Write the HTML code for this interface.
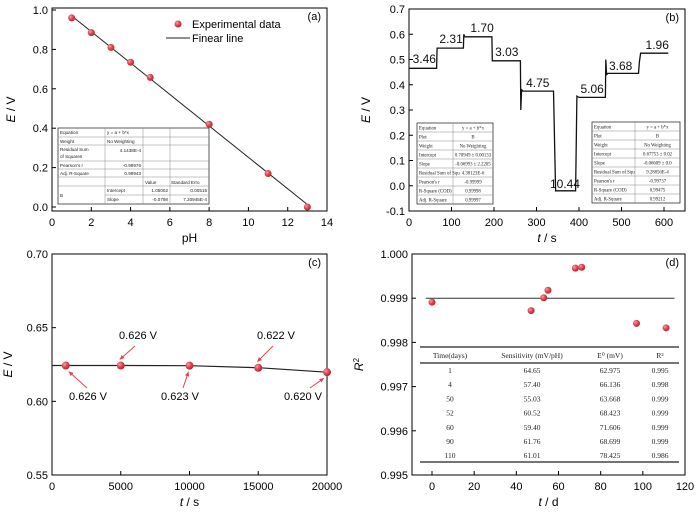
<!DOCTYPE html>
<html><head><meta charset="utf-8"><style>
body{margin:0;background:#fff}
svg{display:block;font-family:"Liberation Sans",sans-serif}
.tb{font-family:"Liberation Serif",serif}
</style></head><body>
<svg id="s" width="700" height="514" viewBox="0 0 700 514" xmlns="http://www.w3.org/2000/svg">
<defs><radialGradient id="rg" cx="0.35" cy="0.35" r="0.7"><stop offset="0" stop-color="#f5a0a5"/><stop offset="0.5" stop-color="#e0454f"/><stop offset="1" stop-color="#b5222c"/></radialGradient></defs>
</svg>
<script>
// panel a
const phX=[1,2,3,4,5,8,11,13];
const phE=[0.96,0.885,0.81,0.735,0.658,0.42,0.17,0.0];
const fitA=[1.05002,-0.0798];
const aXTicks=[0,2,4,6,8,10,12,14];
const aYTicks=[0.0,0.2,0.4,0.6,0.8,1.0];
// panel b
const bT=[0,65,66,128,129,131,195,196,262,263,265,268,340,345,392,395,400,462,463,465,468,540,542,545,610];
const bE=[0.465,0.465,0.545,0.545,0.60,0.59,0.59,0.495,0.495,0.30,0.38,0.375,0.375,-0.02,-0.02,0.355,0.35,0.35,0.50,0.44,0.445,0.445,0.49,0.525,0.525];
const bLabels=["3.46","2.31","1.70","3.03","4.75","10.44","5.06","3.68","1.96"];
const bLabT=[36,99,172,230,303,367,431,498,584];
const bLabE=[0.486,0.565,0.609,0.514,0.391,-0.009,0.367,0.458,0.542];
const bXTicks=[0,100,200,300,400,500,600];
const bYTicks=[-0.1,0,0.1,0.2,0.3,0.4,0.5,0.6,0.7];
// panel c
const cT=[1000,5000,10000,15000,20000];
const cE=[0.6243,0.6243,0.6242,0.6228,0.6198];
const cLabels=["0.626 V","0.626 V","0.623 V","0.622 V","0.620 V"];
const cXTicks=[0,5000,10000,15000,20000];
const cYTicks=[0.55,0.60,0.65,0.70];
// panel d
const dT=[0,47,53,55,68,71,97,111];
const dR=[0.99891,0.99872,0.99901,0.99918,0.99968,0.99970,0.99843,0.99833];
const dXTicks=[0,20,40,60,80,100,120];
const dYTicks=[0.995,0.996,0.997,0.998,0.999,1.000];
const tabHead=["Time(days)","Sensitivity (mV/pH)","E\u2070 (mV)","R\u00b2"];
const tabDays=["1","4","50","52","60","90","110"];
const tabSens=["64.65","57.40","55.03","60.52","59.40","61.76","61.01"];
const tabE0=["62.975","66.136","63.668","68.423","71.606","68.699","78.425"];
const tabR2=["0.995","0.998","0.999","0.999","0.999","0.999","0.986"];

const S=document.getElementById('s');const NS="http://www.w3.org/2000/svg";
function mk(t,a,txt,p){const e=document.createElementNS(NS,t);for(const k in a)e.setAttribute(k,a[k]);if(txt!=null)e.textContent=txt;(p||S).appendChild(e);return e;}
function lin(d0,d1,r0,r1){return v=>r0+(v-d0)/(d1-d0)*(r1-r0);}

function frame(P,name){
  const g=mk('g',{});
  
  
  const r=mk('rect',{x:P.x0,y:P.y0,width:P.x1-P.x0,height:P.y1-P.y0,fill:'none',stroke:'#000','stroke-width':1},null,g);
  
  
  P.xt.forEach(v=>{const x=P.sx(v);
    const l=mk('line',{x1:x,x2:x,y1:P.y1,y2:P.y1-4,stroke:'#000'},null,g);
    
    
    const t=mk('text',{x:x,y:P.y1+15,'text-anchor':'middle','font-size':P.fs},P.xf(v),g);
    
    });
  P.yt.forEach(v=>{const y=P.sy(v);
    const l=mk('line',{x1:P.x0,x2:P.x0+4,y1:y,y2:y,stroke:'#000'},null,g);
    
    
    const t=mk('text',{x:P.x0-4,y:y+4,'text-anchor':'end','font-size':P.fs},P.yf(v),g);
    
    });
  const xl=mk('text',{x:(P.x0+P.x1)/2,y:P.y1+31,'text-anchor':'middle','font-size':12},null,g);
  xl.innerHTML=P.xl;
  
  
  const yl=mk('text',{x:0,y:0,'text-anchor':'middle','font-size':12,transform:`translate(${P.ylx},${(P.y0+P.y1)/2}) rotate(-90)`},null,g);
  yl.innerHTML=P.yl;
  
  
  const pl=mk('text',{x:P.x1-6,y:P.y0+12,'text-anchor':'end','font-size':11},P.tag,g);
  
  
  return g;
}
function dot(x,y,r,name){const c=mk('circle',{cx:x,cy:y,r:r,fill:'url(#rg)'});
  
  return c;}

// ---------- A
const A={x0:52,x1:327,y0:8,y1:211,fs:11,xt:aXTicks,yt:aYTicks,xf:v=>v,yf:v=>v.toFixed(1),xl:'pH',yl:'<tspan font-style="italic">E</tspan> / V',ylx:15,tag:'(a)'};
A.sx=lin(0,14,52,327);A.sy=lin(0,1,207,10);
frame(A,'panel-a');
const fl=mk('line',{x1:A.sx(1),y1:A.sy(fitA[0]+fitA[1]*1),x2:A.sx(13),y2:A.sy(fitA[0]+fitA[1]*13),stroke:'#222','stroke-width':1});


phX.forEach((x,i)=>dot(A.sx(x),A.sy(phE[i]),3.5,'data-point'));
dot(178,24,3.5,'legend-marker');
const lt1=mk('text',{x:192,y:28,'font-size':11},'Experimental data');


const ll=mk('line',{x1:166,x2:190,y1:38,y2:38,stroke:'#222'});


const lt2=mk('text',{x:192,y:42,'font-size':11},'Finear line');


// fit table a
(function(){
  const g=mk('g',{'font-size':4.6,fill:'#222'});
  
  
  mk('rect',{x:58,y:128,width:151,height:76,fill:'#fff',stroke:'#333','stroke-width':0.8},null,g);
  [137,145,161,169,177,186,195].forEach((y,i)=>mk('line',{x1:i==6?105:58,x2:209,y1:y,y2:y,stroke:'#888','stroke-width':0.5},null,g));
  [105,143,170].forEach(x=>mk('line',{x1:x,x2:x,y1:128,y2:204,stroke:'#888','stroke-width':0.5},null,g));
  const rows=[["Equation",134],["Weight",143],["Residual Sum",151],["of Squares",158],["Pearson's r",167],["Adj. R-Square",175],["B",197]];
  rows.forEach(r=>mk('text',{x:60,y:r[1]},r[0],g));
  mk('text',{x:107,y:134},'y = a + b*x',g);mk('text',{x:107,y:143},'No Weighting',g);
  mk('text',{x:141,y:152,'text-anchor':'end'},'4.1438E-4',g);
  mk('text',{x:141,y:167,'text-anchor':'end'},'-0.99976',g);
  mk('text',{x:141,y:175,'text-anchor':'end'},'0.99943',g);
  mk('text',{x:145,y:184},'Value',g);mk('text',{x:171,y:184},'Standard Erro',g);
  mk('text',{x:107,y:192},'Intercept',g);mk('text',{x:107,y:201},'Slope',g);
  mk('text',{x:168,y:192,'text-anchor':'end'},'1.05002',g);mk('text',{x:168,y:201,'text-anchor':'end'},'-0.0798',g);
  mk('text',{x:207,y:192,'text-anchor':'end'},'0.00515',g);mk('text',{x:207,y:201,'text-anchor':'end'},'7.20945E-4',g);
})();

// ---------- B
const B={x0:409,x1:685,y0:9,y1:211,fs:11,xt:bXTicks,yt:bYTicks,xf:v=>v,yf:v=>v.toFixed(1),xl:'<tspan font-style="italic">t</tspan> / s',yl:'<tspan font-style="italic">E</tspan> / V',ylx:370,tag:'(b)'};
B.sx=lin(0,600,409,664);B.sy=lin(-0.1,0.7,211,9);
frame(B,'panel-b');
const bp=mk('path',{d:bT.map((t,i)=>(i?'L':'M')+B.sx(t).toFixed(1)+','+B.sy(bE[i]).toFixed(1)).join(''),fill:'none',stroke:'#111','stroke-width':1.3});


bLabels.forEach((s,i)=>{const t=mk('text',{x:B.sx(bLabT[i]),y:B.sy(bLabE[i]),'text-anchor':'middle','font-size':12,fill:'#111'},s);
  
  });
function btable(x0,y0,w,split,vals,name){
  const g=mk('g',{'font-size':4.8,fill:'#222',class:'tb'});
  
  
  const rh=9;
  mk('rect',{x:x0,y:y0,width:w,height:rh*9,fill:'#fff',stroke:'#333','stroke-width':0.8},null,g);
  for(let i=1;i<9;i++)mk('line',{x1:x0,x2:x0+w,y1:y0+i*rh,y2:y0+i*rh,stroke:'#888','stroke-width':0.5},null,g);
  mk('line',{x1:x0+split,x2:x0+split,y1:y0,y2:y0+rh*9,stroke:'#888','stroke-width':0.5},null,g);
  const L=["Equation","Plot","Weight","Intercept","Slope","Residual Sum of Squ","Pearson's r","R-Square (COD)","Adj. R-Square"];
  L.forEach((s,i)=>{mk('text',{x:x0+2,y:y0+i*rh+6.5},s,g);mk('text',{x:x0+split+(w-split)/2,y:y0+i*rh+6.5,'text-anchor':'middle'},vals[i],g);});
}
btable(417,123,76,36,["y = a + b*x","B","No Weighting","0.70949 \u00b1 0.00133","-0.06993 \u00b1 2.2205","4.38123E-6","-0.99999","0.99998","0.99997"],'fit-table-b-left');
btable(592,122,88,43,["y = a + b*x","B","No Weighting","0.67753 \u00b1 0.02","-0.06609 \u00b1 0.0","9.28856E-4","-0.99737","0.99475","0.99212"],'fit-table-b-right');

// ---------- C
const C={x0:52,x1:327,y0:254,y1:475,fs:11,xt:cXTicks,yt:cYTicks,xf:v=>v,yf:v=>v.toFixed(2),xl:'<tspan font-style="italic">t</tspan> / s',yl:'<tspan font-style="italic">E</tspan> / V',ylx:12,tag:'(c)'};
C.sx=lin(0,20000,52,327);C.sy=lin(0.55,0.70,475,254);
frame(C,'panel-c');
const cp=mk('path',{d:'M'+C.sx(0)+','+C.sy(cE[0])+cT.map((t,i)=>'L'+C.sx(t).toFixed(1)+','+C.sy(cE[i]).toFixed(1)).join(''),fill:'none',stroke:'#222','stroke-width':1.2});


cT.forEach((t,i)=>dot(C.sx(t),C.sy(cE[i]),4,'data-point'));
cT.forEach((t,i)=>{const px=C.sx(t),py=C.sy(cE[i]);const below=(i%2==0);
  const tx=[88,138,180,276,303][i], ty=below?400:339;
  const ax=[87,135,183,273,310][i], ay=below?388:346;
  const ex=px+[3,-1,-1,-1,-3][i], ey=py+(below?6:-6);
  const a=mk('line',{x1:ax,y1:ay,x2:ex,y2:ey,stroke:'#e0454f','stroke-width':1});
  
  
  const ang=Math.atan2(ey-ay,ex-ax);const h=5;
  const hp=mk('polygon',{points:`${ex},${ey} ${ex-h*Math.cos(ang-0.45)},${ey-h*Math.sin(ang-0.45)} ${ex-h*Math.cos(ang+0.45)},${ey-h*Math.sin(ang+0.45)}`,fill:'#e0454f'});
  
  
  const tt=mk('text',{x:tx,y:ty,'text-anchor':'middle','font-size':11},cLabels[i]);
  
  });

// ---------- D
const D={x0:412,x1:685,y0:254,y1:475,fs:11,xt:dXTicks,yt:dYTicks,xf:v=>v,yf:v=>v.toFixed(3),xl:'<tspan font-style="italic">t</tspan> / d',yl:'<tspan font-style="italic">R</tspan><tspan dy="-4" font-size="8">2</tspan>',ylx:363,tag:'(d)'};
D.sx=lin(0,120,432,685);D.sy=lin(0.995,1.0,475,254);
frame(D,'panel-d');
const hl=mk('line',{x1:D.sx(-3),x2:D.sx(115),y1:D.sy(0.999),y2:D.sy(0.999),stroke:'#333'});


dT.forEach((t,i)=>dot(D.sx(t),D.sy(dR[i]),3.5,'data-point'));
(function(){
  const g=mk('g',{'font-size':7.5,fill:'#222',class:'tb','text-anchor':'middle'});
  
  
  mk('line',{x1:420,x2:679,y1:347,y2:347,stroke:'#222','stroke-width':1.2},null,g);
  mk('line',{x1:420,x2:679,y1:363,y2:363,stroke:'#222','stroke-width':1.2},null,g);
  mk('line',{x1:420,x2:679,y1:462,y2:462,stroke:'#222','stroke-width':1.2},null,g);
  const cx=[450,532,610,660];
  tabHead.forEach((h,j)=>mk('text',{x:cx[j],y:358},h,g));
  tabDays.forEach((d,i)=>{const y=373+i*14.2;
    [d,tabSens[i],tabE0[i],tabR2[i]].forEach((v,j)=>mk('text',{x:cx[j],y:y},v,g));});
})();
</script>
</body></html>
